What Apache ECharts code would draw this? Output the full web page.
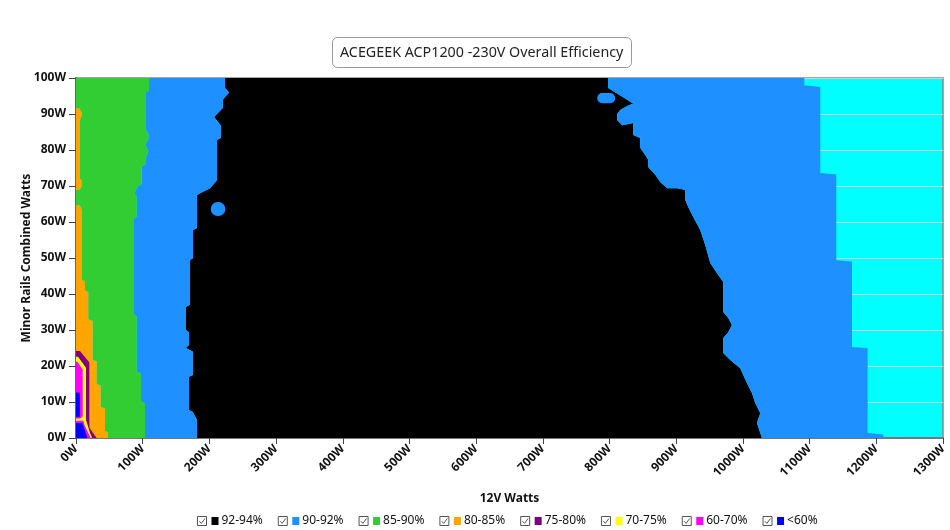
<!DOCTYPE html>
<html><head><meta charset="utf-8">
<script src="https://cdn.jsdelivr.net/npm/echarts@6/dist/echarts.min.js"></script>
<style>html,body{margin:0;padding:0;background:#fff}#c{width:950px;height:530px}</style>
</head><body><div id="c"></div>
<script>
// ---- data (12V watts, minor-rail watts) ----
const legendNames = ['92-94%','90-92%','85-90%','80-85%','75-80%','70-75%','60-70%','<60%'];
const legendColors = ['#000000','#1E90FF','#32CD32','#FFA500','#800080','#FFFF00','#FF00FF','#0000FF'];
const xTicks = [0,100,200,300,400,500,600,700,800,900,1000,1100,1200,1300];
const yTicks = [0,10,20,30,40,50,60,70,80,90,100];

// boundary between 80-85% and 85-90%
const orangeEnd = [[0,100],[0,91.7],[5,91.5],[8.5,90.5],[8.5,89.5],[6,88.5],[6,72],[8.5,71.5],[8.5,70],[6,69],[0,68.9],[0,64.7],[6,64.5],[8.5,63.5],[8.5,44],[13.5,43.5],[13.5,41],[18.5,40.5],[18.5,33],[25,32.5],[25,21.7],[31,21.3],[31,15],[37,14.5],[37,8.6],[43.5,8.2],[43.5,2],[48,1.6],[48,0]];
// boundary between 85-90% and 90-92%
const greenEnd = [[109.5,100],[109.5,96.5],[104,96],[104,86],[108.5,84.5],[108.5,83],[104,81.5],[108.5,79.5],[104,77.5],[104,76],[98.5,75.4],[98.5,70.5],[92.5,70],[87.5,67.8],[91,67.2],[91,61.5],[86,60.8],[86,34.5],[91,33.8],[91,18.5],[97.5,17.8],[97.5,10.2],[103.5,9.5],[103.5,0]];
// boundary between 90-92% and 92-94% (low load side)
const blueEnd = [[223.5,100],[223.5,97.2],[229.5,96],[223.5,94.7],[220,93.9],[220,91.7],[207,89.2],[217,86.9],[217,83.3],[211.5,82.8],[211.5,71.7],[201,69.4],[186,68],[181.5,67.5],[181.5,58.3],[175.5,57.8],[175.5,50],[171,49.4],[171,37],[164.5,36.4],[164.5,30],[169.5,29.4],[169.5,25.8],[164.5,25],[175,24],[175,17.5],[169.5,17],[169.5,7.8],[175,7.2],[181.5,5],[181.5,0]];
// boundary between 92-94% and 90-92% (high load side)
const blackEnd = [[798,100],[798,97.2],[835.5,92.9],[826.5,92.2],[816,91.1],[811.5,90],[811.5,88.3],[819,86.9],[835.5,87.5],[835.5,84.2],[846,83.3],[846,80.6],[853.5,78.6],[858,77.2],[858,75.3],[868.5,73.1],[876,71.1],[886.5,69.4],[901.5,69.4],[913.5,68.9],[913.5,66.1],[918,64.2],[925.5,61.4],[936,57.8],[943.5,53.6],[951,48.6],[961,45.8],[970.5,43.3],[970.5,35],[978,33.3],[983.5,31.4],[978,29.4],[970.5,27.8],[970.5,23.6],[981,21.7],[996,19.4],[1000.5,17.5],[1006,15.3],[1013.5,12.5],[1018.5,9.7],[1026,6.9],[1021,4.2],[1028.5,0]];
// boundary between 90-92% and >94% (cyan background)
const blue2End = [[1092,100],[1092,98],[1116,97.5],[1116,73.6],[1140,73.2],[1140,49.4],[1163.5,49],[1163.5,25.3],[1187,24.9],[1187,1.4],[1210.5,1],[1210.5,0]];
// 90-92% islands inside 92-94%: [centerX, centerY, width, height]
const blueIslands = [[213,63.6,22,3.9],[795,94.4,27,2.8]];
// low-load pockets
const purpleArea = [[0,24.2],[6,24.2],[20,21],[20,3],[25,1.5],[31,0],[0,0]];
const yellowArea = [[0,22.6],[3,22.6],[15,19.5],[15,5],[20,2],[24,0],[0,0]];
const magentaTop = [[0,21.2],[2,21.2],[10,19],[10,6],[6,5.4],[0,5.4]];
const magentaBottom = [[0,4.8],[11,4.8],[13,3.5],[18,1.5],[22,0],[0,0]];
const deepBlueTop = [[0,12.6],[6,12.6],[6,5.8],[0,5.8]];
const deepBlueBottom = [[0,4.2],[9,4.2],[12,3],[15,1.2],[17,0],[0,0]];

// ---- build ----
function band(a, b){ return a.concat(b.slice().reverse()); }
function leftOf(a){ return a.concat([[0,0]]); }
const regions = [
  {name:'92-94%', polys:[band(blueEnd, blackEnd)]},
  {name:'90-92%', polys:[band(greenEnd, blueEnd), band(blackEnd, blue2End)]},
  {name:'85-90%', polys:[band(orangeEnd, greenEnd)]},
  {name:'80-85%', polys:[leftOf(orangeEnd)]},
  {name:'75-80%', polys:[purpleArea]},
  {name:'70-75%', polys:[yellowArea]},
  {name:'60-70%', polys:[magentaTop, magentaBottom]},
  {name:'<60%', polys:[deepBlueTop, deepBlueBottom]}
];
const FONT = 'Noto Sans';
const series = regions.map(function(r){
  const col = legendColors[legendNames.indexOf(r.name)];
  return {
    type:'custom', name:r.name, clip:true, animation:false,
    itemStyle:{color:col},
    data: r.polys.map(function(p,i){ return [p[0][0], p[0][1], i]; }),
    renderItem: function(params, api){
      const pts = r.polys[params.dataIndex].map(function(p){ return api.coord(p); });
      return {type:'polygon', shape:{points:pts}, style:{fill:col}};
    }
  };
});
series.push({
  type:'custom', name:'90-92%', clip:true, animation:false, itemStyle:{color:'#1E90FF'},
  data: blueIslands.map(function(d){ return [d[0], d[1], d[2], d[3]]; }),
  renderItem: function(params, api){
    const d = blueIslands[params.dataIndex];
    const p0 = api.coord([d[0]-d[2]/2, d[1]+d[3]/2]);
    const p1 = api.coord([d[0]+d[2]/2, d[1]-d[3]/2]);
    const w = p1[0]-p0[0], h = p1[1]-p0[1];
    return {type:'rect', shape:{x:p0[0], y:p0[1], width:w, height:h, r:Math.min(w,h)/2}, style:{fill:'#1E90FF'}};
  }
});

const rich = {};
legendColors.forEach(function(c,i){ rich['s'+i] = {width:7, height:8, backgroundColor:c}; });
rich.t = {fontFamily:FONT, fontSize:12, color:'#111', padding:[0,0,0,3]};

const chart = echarts.init(document.getElementById('c'), null, {renderer:'canvas'});
chart.setOption({
  animation:false,
  backgroundColor:'#fff',
  title:{
    text:'ACEGEEK ACP1200 -230V Overall Efficiency',
    left:332, top:37,
    padding:[9,8,8,8],
    borderColor:'#999', borderWidth:1, borderRadius:5,
    textStyle:{fontFamily:FONT, fontSize:14.3, fontWeight:'normal', color:'#222'}
  },
  legend:{
    data: legendNames.map(function(n){ return {name:n}; }),
    top:515, left:197, padding:0,
    itemWidth:9, itemHeight:9, itemGap:15,
    icon:'path://M0,0L10,0L10,10L0,10Z M2,5.2L4.3,7.6L8.3,2.2',
    itemStyle:{color:'#fff', borderColor:'#555', borderWidth:1},
    selectedMode:false,
    formatter: function(name){ return '{s'+legendNames.indexOf(name)+'|}{t|'+name+'}'; },
    textStyle:{fontFamily:FONT, fontSize:12, color:'#111', rich:rich}
  },
  grid:{left:76, right:7, top:78, bottom:92, show:true, backgroundColor:'#00FFFF', borderColor:'#888', borderWidth:1.5},
  xAxis:{
    type:'value', min:xTicks[0], max:xTicks[xTicks.length-1], interval:100,
    name:'12V Watts', nameLocation:'middle', nameGap:55,
    nameTextStyle:{fontFamily:FONT, fontSize:12, fontWeight:'bold', color:'#111'},
    axisLine:{show:true, lineStyle:{color:'#777', width:2}},
    axisTick:{show:true, length:6, lineStyle:{color:'#444'}},
    axisLabel:{rotate:45, margin:9, fontFamily:FONT, fontSize:12, fontWeight:'bold', color:'#111',
      formatter:function(v){ return v + 'W'; }, showMaxLabel:true, showMinLabel:true},
    splitLine:{show:false}
  },
  yAxis:{
    type:'value', min:yTicks[0], max:yTicks[yTicks.length-1], interval:10,
    name:'Minor Rails Combined Watts', nameLocation:'middle', nameGap:43, nameMoveOverlap:false,
    nameTextStyle:{fontFamily:FONT, fontSize:12, fontWeight:'bold', color:'#111'},
    axisLine:{show:true, lineStyle:{color:'#666', width:2}},
    axisTick:{show:true, length:7, lineStyle:{color:'#444'}},
    axisLabel:{margin:10, fontFamily:FONT, fontSize:12, fontWeight:'bold', color:'#111',
      formatter:function(v){ return v + 'W'; }},
    splitLine:{show:true, lineStyle:{color:'#d0d0d0', width:1}}
  },
  series: series
});
</script></body></html>
